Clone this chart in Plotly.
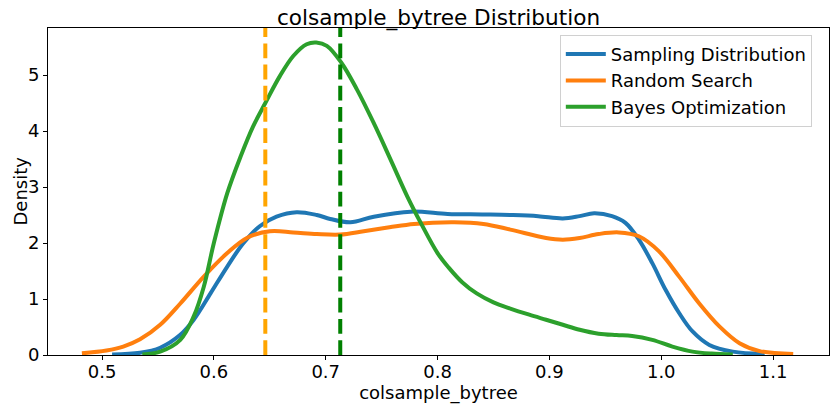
import plotly.graph_objects as go

# Sampling Distribution KDE
samp_x = [0.509, 0.534, 0.552, 0.570, 0.582, 0.597, 0.612, 0.6265, 0.641, 0.656, 0.674, 0.692, 0.704, 0.722, 0.743, 0.776, 0.809, 0.840, 0.865, 0.890, 0.912, 0.927, 0.940, 0.956, 0.968, 0.980, 0.992, 1.004, 1.016, 1.028, 1.043, 1.064, 1.0925]
samp_y = [0.01, 0.04, 0.13, 0.36, 0.63, 1.10, 1.58, 2.00, 2.30, 2.47, 2.55, 2.50, 2.43, 2.37, 2.47, 2.56, 2.52, 2.51, 2.50, 2.48, 2.44, 2.48, 2.53, 2.48, 2.36, 2.06, 1.64, 1.16, 0.75, 0.42, 0.18, 0.06, 0.02]

# Random Search KDE
rand_x = [0.482, 0.504, 0.519, 0.534, 0.552, 0.570, 0.591, 0.612, 0.6295, 0.650, 0.671, 0.692, 0.713, 0.734, 0.757, 0.779, 0.815, 0.841, 0.865, 0.897, 0.912, 0.927, 0.944, 0.962, 0.980, 0.998, 1.016, 1.034, 1.052, 1.070, 1.088, 1.118]
rand_y = [0.03, 0.08, 0.15, 0.28, 0.54, 0.92, 1.40, 1.82, 2.09, 2.21, 2.19, 2.16, 2.15, 2.21, 2.28, 2.34, 2.37, 2.34, 2.24, 2.09, 2.06, 2.09, 2.16, 2.19, 2.12, 1.85, 1.40, 0.92, 0.51, 0.21, 0.07, 0.02]

# Bayes Optimization KDE
bayes_x = [0.536, 0.552, 0.570, 0.582, 0.591, 0.600, 0.612, 0.624, 0.635, 0.646, 0.659, 0.671, 0.683, 0.6916, 0.701, 0.714, 0.728, 0.743, 0.758, 0.773, 0.785, 0.800, 0.810, 0.822, 0.835, 0.850, 0.865, 0.882, 0.897, 0.912, 0.927, 0.944, 0.960, 0.974, 0.992, 1.010, 1.028, 1.045, 1.064]
bayes_y = [0.01, 0.06, 0.27, 0.69, 1.22, 2.00, 2.89, 3.55, 4.08, 4.50, 4.98, 5.34, 5.55, 5.58, 5.52, 5.22, 4.74, 4.14, 3.49, 2.83, 2.36, 1.82, 1.56, 1.30, 1.10, 0.94, 0.83, 0.72, 0.63, 0.54, 0.45, 0.38, 0.355, 0.34, 0.27, 0.15, 0.06, 0.025, 0.01]

random_best = 0.646
bayes_best = 0.713

x_ticks = [0.5, 0.6, 0.7, 0.8, 0.9, 1.0, 1.1]
y_ticks = [0, 1, 2, 3, 4, 5]

FONT = "DejaVu Sans"

fig = go.Figure()
fig.add_trace(go.Scatter(x=samp_x, y=samp_y, mode="lines", name="Sampling Distribution",
                         line=dict(color="#1f77b4", width=4, shape="spline", smoothing=1.0)))
fig.add_trace(go.Scatter(x=rand_x, y=rand_y, mode="lines", name="Random Search",
                         line=dict(color="#ff7f0e", width=4, shape="spline", smoothing=1.0)))
fig.add_trace(go.Scatter(x=bayes_x, y=bayes_y, mode="lines", name="Bayes Optimization",
                         line=dict(color="#2ca02c", width=4, shape="spline", smoothing=1.0)))

fig.add_vline(x=random_best, line=dict(color="orange", width=4, dash="14.8px,6.4px"))
fig.add_vline(x=bayes_best, line=dict(color="green", width=4, dash="14.8px,6.4px"))

fig.update_layout(
    width=839, height=409,
    margin=dict(l=48, r=10, t=28, b=54, autoexpand=False),
    paper_bgcolor="white", plot_bgcolor="white",
    font=dict(family=FONT, size=18, color="black"),
    title=dict(text="colsample_bytree Distribution", x=0.5, xref="paper", xanchor="center",
               y=1 - 24.5 / 409, yref="container", yanchor="bottom", pad=dict(b=0, t=0),
               font=dict(family=FONT, size=21.6, color="black")),
    showlegend=True,
    legend=dict(x=0.978, y=0.979, xanchor="right", yanchor="top",
                bgcolor="white", bordercolor="#d0d0d0", borderwidth=1,
                font=dict(family=FONT, size=18), itemwidth=40, tracegroupgap=0),
    annotations=[dict(text="Density", textangle=-90, xref="paper", yref="paper",
                      x=(20 - 48) / 781, y=0.5, xanchor="center", yanchor="middle",
                      showarrow=False, font=dict(family=FONT, size=18, color="black"))],
)
fig.update_xaxes(range=[0.4517, 1.150], tickvals=x_ticks, ticktext=[f"{v:.1f}" for v in x_ticks],
                 showgrid=False, zeroline=False, showline=True, linecolor="black", linewidth=1,
                 mirror=True, ticks="outside", ticklen=4, tickcolor="black", automargin=False,
                 ticklabelstandoff=-4,
                 title=dict(text="colsample_bytree", standoff=1, font=dict(size=18)))
fig.update_yaxes(range=[0, 5.84], tickvals=y_ticks, ticktext=[str(v) for v in y_ticks],
                 showgrid=False, zeroline=False, showline=True, linecolor="black", linewidth=1,
                 mirror=True, ticks="outside", ticklen=4, tickcolor="black", automargin=False)

fig.write_html("out.html", config={"displayModeBar": False},
               post_script="document.body.style.margin='0';document.body.style.overflow='hidden';")
